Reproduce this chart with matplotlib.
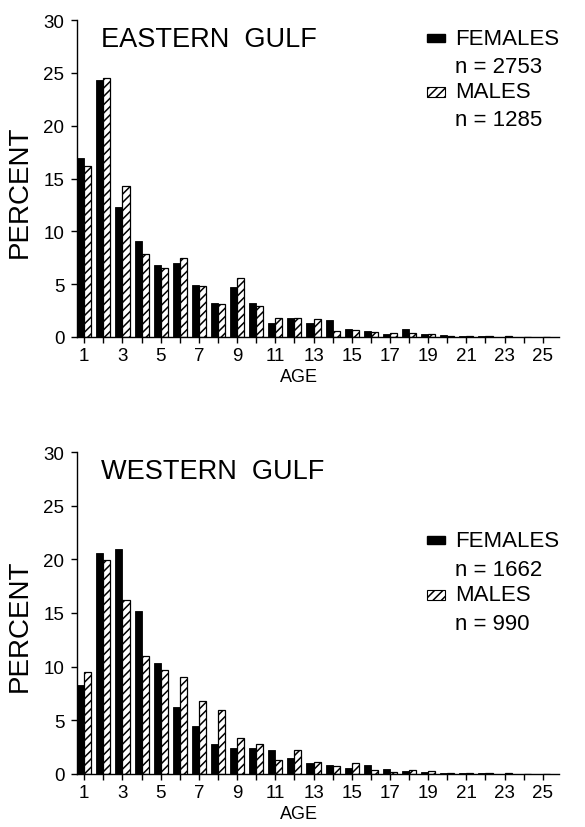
"""Age composition by sex, eastern vs western gulf."""

import matplotlib

matplotlib.use("Agg")
import matplotlib.pyplot as plt
from matplotlib.patches import Rectangle
from matplotlib.ticker import MultipleLocator
import numpy as np

plt.rcParams["font.family"] = ["Liberation Sans", "DejaVu Sans"]
plt.rcParams["hatch.linewidth"] = 1.1

ages = np.arange(1, 26)

east_females = [16.9, 24.3, 12.3, 9.1, 6.8, 7.0, 4.9, 3.2, 4.7, 3.2, 1.3, 1.8, 1.3,
                1.6, 0.8, 0.6, 0.3, 0.8, 0.3, 0.15, 0.1, 0.05, 0.04, 0.03, 0.03]
east_males = [16.2, 24.5, 14.3, 7.9, 6.5, 7.5, 4.8, 3.1, 5.6, 2.9, 1.8, 1.8, 1.7,
              0.6, 0.7, 0.5, 0.4, 0.4, 0.25, 0.1, 0.12, 0.05, 0.05, 0.04, 0.04]

west_females = [8.3, 20.6, 21.0, 15.2, 10.3, 6.2, 4.5, 2.8, 2.4, 2.4, 2.25, 1.5, 1.0,
                0.8, 0.6, 0.8, 0.45, 0.25, 0.15, 0.08, 0.06, 0.05, 0.04, 0.03, 0.03]
west_males = [9.5, 19.9, 16.2, 11.0, 9.7, 9.0, 6.8, 6.0, 3.4, 2.8, 1.3, 2.25, 1.1,
              0.7, 1.0, 0.4, 0.15, 0.35, 0.3, 0.08, 0.06, 0.05, 0.05, 0.04, 0.04]

regions = ["EASTERN  GULF", "WESTERN  GULF"]
n_females = [2753, 1662]
n_males = [1285, 990]

BAR_W = 0.37


def draw_panel(ax, females, males, title, n_f, n_m, legend_top, age_y):
    ax.bar(ages - BAR_W, females, width=BAR_W, align="edge",
           color="black", edgecolor="black", linewidth=0.6)
    ax.bar(ages, males, width=BAR_W, align="edge", color="white",
           edgecolor="black", linewidth=0.9, hatch="////")

    ax.set_xlim(0.62, 25.85)
    ax.set_ylim(0, 30)
    for side in ("top", "right"):
        ax.spines[side].set_visible(False)
    ax.spines["left"].set_linewidth(1.0)
    ax.spines["bottom"].set_linewidth(1.0)

    ax.yaxis.set_major_locator(MultipleLocator(5))
    ax.xaxis.set_major_locator(MultipleLocator(2, offset=1))
    ax.xaxis.set_minor_locator(MultipleLocator(1))
    ax.tick_params(axis="both", which="both", direction="out", length=4,
                   width=1.0, labelsize=13.5)
    ax.tick_params(axis="y", pad=5)
    ax.tick_params(axis="x", pad=3.5)

    ax.set_ylabel("PERCENT", fontsize=20)
    ax.yaxis.set_label_coords(-0.092, 0.462)
    ax.set_xlabel("AGE", fontsize=13, va="top")
    ax.xaxis.set_label_coords(0.46, age_y)

    ax.text(0.05, 0.94, title, transform=ax.transAxes, fontsize=19.5,
            ha="left", va="center")

    # legend drawn by hand so the swatch lines up with the first text line
    sx, sw = 0.726, 0.037
    tx = 0.784
    y0 = legend_top
    ax.add_patch(Rectangle((sx, y0 - 0.013), sw, 0.026, transform=ax.transAxes,
                           facecolor="black", edgecolor="black", clip_on=False))
    ax.text(tx, y0, "FEMALES", transform=ax.transAxes, fontsize=16,
            ha="left", va="center")
    ax.text(tx, y0 - 0.09, f"n = {n_f}", transform=ax.transAxes, fontsize=16,
            ha="left", va="center")
    y1 = y0 - 0.17
    ax.add_patch(Rectangle((sx, y1 - 0.015), sw, 0.03, transform=ax.transAxes,
                           facecolor="white", edgecolor="black", hatch="////",
                           linewidth=0.8, clip_on=False))
    ax.text(tx, y1, "MALES", transform=ax.transAxes, fontsize=16,
            ha="left", va="center")
    ax.text(tx, y1 - 0.088, f"n = {n_m}", transform=ax.transAxes, fontsize=16,
            ha="left", va="center")


fig = plt.figure(figsize=(5.85, 8.28), dpi=100)
fig.patch.set_facecolor("white")
ax_top = fig.add_axes([77 / 585, 1 - 338 / 828, 482 / 585, 317 / 828])
ax_bot = fig.add_axes([77 / 585, 1 - 775 / 828, 482 / 585, 322 / 828])

draw_panel(ax_top, np.array(east_females), np.array(east_males), regions[0],
           n_females[0], n_males[0], legend_top=0.943, age_y=-0.098)
draw_panel(ax_bot, np.array(west_females), np.array(west_males), regions[1],
           n_females[1], n_males[1], legend_top=0.726, age_y=-0.097)

fig.savefig("out.png", dpi=100, facecolor="white")
plt.close(fig)
